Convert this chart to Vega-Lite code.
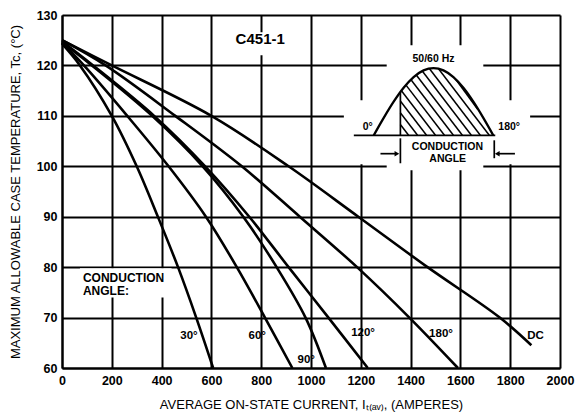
{
  "$schema": "https://vega.github.io/schema/vega-lite/v6.json",
  "width": 498,
  "height": 353,
  "autosize": {"type": "none"},
  "padding": {"left": 62, "top": 15, "right": 17, "bottom": 50},
  "background": "white",
  "config": {
    "view": {"stroke": null},
    "font": "Liberation Sans"
  },
  "datasets": {
    "curves": [
      {"angle": "30", "x": 0, "y": 124.3}, {"angle": "30", "x": 72, "y": 120}, {"angle": "30", "x": 200, "y": 110}, {"angle": "30", "x": 300, "y": 100}, {"angle": "30", "x": 385, "y": 90}, {"angle": "30", "x": 466, "y": 80}, {"angle": "30", "x": 539, "y": 70}, {"angle": "30", "x": 607, "y": 60},
      {"angle": "60", "x": 0, "y": 124.5}, {"angle": "60", "x": 88, "y": 120}, {"angle": "60", "x": 262, "y": 110}, {"angle": "60", "x": 428, "y": 100}, {"angle": "60", "x": 578, "y": 90}, {"angle": "60", "x": 702, "y": 80}, {"angle": "60", "x": 815, "y": 70}, {"angle": "60", "x": 925, "y": 60},
      {"angle": "90", "x": 0, "y": 124.6}, {"angle": "90", "x": 120, "y": 120}, {"angle": "90", "x": 362, "y": 110}, {"angle": "90", "x": 565, "y": 100}, {"angle": "90", "x": 728, "y": 90}, {"angle": "90", "x": 862, "y": 80}, {"angle": "90", "x": 978, "y": 70}, {"angle": "90", "x": 1060, "y": 60},
      {"angle": "120", "x": 0, "y": 124.8}, {"angle": "120", "x": 125, "y": 120}, {"angle": "120", "x": 370, "y": 110}, {"angle": "120", "x": 575, "y": 100}, {"angle": "120", "x": 752, "y": 90}, {"angle": "120", "x": 910, "y": 80}, {"angle": "120", "x": 1070, "y": 70}, {"angle": "120", "x": 1228, "y": 60},
      {"angle": "180", "x": 0, "y": 125}, {"angle": "180", "x": 175, "y": 120}, {"angle": "180", "x": 455, "y": 110}, {"angle": "180", "x": 722, "y": 100}, {"angle": "180", "x": 955, "y": 90}, {"angle": "180", "x": 1185, "y": 80}, {"angle": "180", "x": 1395, "y": 70}, {"angle": "180", "x": 1590, "y": 60},
      {"angle": "DC", "x": 0, "y": 125}, {"angle": "DC", "x": 200, "y": 120}, {"angle": "DC", "x": 600, "y": 110}, {"angle": "DC", "x": 910, "y": 100}, {"angle": "DC", "x": 1190, "y": 90}, {"angle": "DC", "x": 1468, "y": 80}, {"angle": "DC", "x": 1758, "y": 70}, {"angle": "DC", "x": 1885, "y": 64.5}
    ],
    "masks": [
      {"x": 1304, "x2": 1692, "y": 99.2, "y2": 124.0},
      {"x": 1132, "x2": 1880, "y": 100.4, "y2": 113.1},
      {"x": 672, "x2": 920, "y": 122.0, "y2": 126.6},
      {"x": 72, "x2": 440, "y": 74.0, "y2": 79.8}
    ],
    "curveLabels": [
      {"x": 510, "y": 66.4, "label": "30°"},
      {"x": 784, "y": 66.4, "label": "60°"},
      {"x": 981, "y": 61.6, "label": "90°"},
      {"x": 1209, "y": 66.9, "label": "120°"},
      {"x": 1522, "y": 66.8, "label": "180°"},
      {"x": 1902, "y": 66.4, "label": "DC"}
    ],
    "sine": [
      {"x": 1252, "y": 106.14}, {"x": 1292, "y": 109.59}, {"x": 1332, "y": 112.80}, {"x": 1372, "y": 115.56}, {"x": 1412, "y": 117.68}, {"x": 1452, "y": 119.01}, {"x": 1492, "y": 119.46}, {"x": 1532, "y": 119.01}, {"x": 1572, "y": 117.68}, {"x": 1612, "y": 115.56}, {"x": 1652, "y": 112.80}, {"x": 1692, "y": 109.59}, {"x": 1732, "y": 106.14}
    ],
    "hatch": [
      {"x": 1358.8, "y": 108.29, "x2": 1392, "y2": 106.14},
      {"x": 1358.8, "y": 110.62, "x2": 1428, "y2": 106.14},
      {"x": 1358.8, "y": 112.94, "x2": 1464, "y2": 106.14},
      {"x": 1363.2, "y": 114.99, "x2": 1500, "y2": 106.14},
      {"x": 1381.6, "y": 116.10, "x2": 1536, "y2": 106.14},
      {"x": 1401.6, "y": 117.16, "x2": 1572, "y2": 106.14},
      {"x": 1422.8, "y": 118.11, "x2": 1608, "y2": 106.14},
      {"x": 1446.8, "y": 118.91, "x2": 1644, "y2": 106.14},
      {"x": 1475.2, "y": 119.38, "x2": 1680, "y2": 106.14},
      {"x": 1512, "y": 119.34, "x2": 1716, "y2": 106.14},
      {"x": 1582, "y": 117.2, "x2": 1670, "y2": 111.23}
    ],
    "insetRules": [
      {"x": 1172, "y": 106.14, "x2": 1740, "y2": 106.14},
      {"x": 1359, "y": 106.14, "x2": 1359, "y2": 114.7},
      {"x": 1359, "y": 105.55, "x2": 1359, "y2": 100.6},
      {"x": 1736, "y": 105.15, "x2": 1736, "y2": 101.6},
      {"x": 1279, "y": 102.5, "x2": 1340, "y2": 102.5},
      {"x": 1752, "y": 102.5, "x2": 1819, "y2": 102.5}
    ],
    "arrowRight": [{"x": 1345, "y": 102.5}],
    "arrowLeft": [{"x": 1748, "y": 102.5}],
    "insetText": [
      {"x": 1492, "y": 121.25, "label": "50/60 Hz"},
      {"x": 1228, "y": 107.7, "label": "0°"},
      {"x": 1796, "y": 107.7, "label": "180°"},
      {"x": 1548, "y": 103.8, "label": "CONDUCTION"},
      {"x": 1549, "y": 101.5, "label": "ANGLE"}
    ],
    "condText": [
      {"x": 84, "y": 77.9, "label": "CONDUCTION"},
      {"x": 84, "y": 75.3, "label": "ANGLE:"}
    ],
    "titleText": [
      {"x": 796, "y": 125.2, "label": "C451-1"}
    ]
  },
  "encoding": {
    "x": {
      "field": "x", "type": "quantitative",
      "scale": {"domain": [0, 2000], "nice": false, "zero": false},
      "axis": {
        "values": [0, 200, 400, 600, 800, 1000, 1200, 1400, 1600, 1800, 2000],
        "format": "d",
        "title": "AVERAGE ON-STATE CURRENT, Iₜ₍ₐᵥ₎, (AMPERES)",
        "titleFont": "Liberation Sans", "titleFontSize": 13, "titleFontWeight": "normal", "titleColor": "black", "titlePadding": 12,
        "labelFont": "Liberation Sans", "labelFontSize": 12.5, "labelFontWeight": "bold", "labelColor": "black", "labelPadding": 6,
        "labelFlush": false, "labelOverlap": false,
        "ticks": false, "grid": true, "gridColor": "black", "gridWidth": 2, "gridOpacity": 1,
        "domain": true, "domainColor": "black", "domainWidth": 2
      }
    },
    "y": {
      "field": "y", "type": "quantitative",
      "scale": {"domain": [60, 130], "nice": false, "zero": false},
      "axis": {
        "values": [60, 70, 80, 90, 100, 110, 120, 130],
        "title": "MAXIMUM ALLOWABLE CASE TEMPERATURE, Tc, (°C)",
        "titleFont": "Liberation Sans", "titleFontSize": 13, "titleFontWeight": "normal", "titleColor": "black", "titlePadding": 14,
        "labelFont": "Liberation Sans", "labelFontSize": 12.5, "labelFontWeight": "bold", "labelColor": "black", "labelPadding": 5,
        "labelFlush": false, "labelOverlap": false,
        "ticks": false, "grid": true, "gridColor": "black", "gridWidth": 2, "gridOpacity": 1,
        "domain": true, "domainColor": "black", "domainWidth": 2
      }
    }
  },
  "layer": [
    {
      "data": {"name": "masks"},
      "mark": {"type": "rect", "fill": "white", "stroke": null},
      "encoding": {"x2": {"field": "x2"}, "y2": {"field": "y2"}}
    },
    {
      "data": {"name": "curves"},
      "mark": {"type": "line", "color": "black", "strokeWidth": 2.6, "interpolate": "catmull-rom"},
      "encoding": {"detail": {"field": "angle", "type": "nominal"}, "order": {"field": "x", "type": "quantitative"}}
    },
    {
      "data": {"name": "curveLabels"},
      "mark": {"type": "text", "font": "Liberation Sans", "fontSize": 11.5, "fontWeight": "bold", "align": "center", "baseline": "middle", "color": "black"},
      "encoding": {"text": {"field": "label"}}
    },
    {
      "data": {"name": "condText"},
      "mark": {"type": "text", "font": "Liberation Sans", "fontSize": 12, "fontWeight": "bold", "align": "left", "baseline": "middle", "color": "black"},
      "encoding": {"text": {"field": "label"}}
    },
    {
      "data": {"name": "titleText"},
      "mark": {"type": "text", "font": "Liberation Sans", "fontSize": 15, "fontWeight": "bold", "align": "center", "baseline": "middle", "color": "black"},
      "encoding": {"text": {"field": "label"}}
    },
    {
      "data": {"name": "hatch"},
      "mark": {"type": "rule", "color": "black", "strokeWidth": 1.5},
      "encoding": {"x2": {"field": "x2"}, "y2": {"field": "y2"}}
    },
    {
      "data": {"name": "insetRules"},
      "mark": {"type": "rule", "color": "black", "strokeWidth": 1.7},
      "encoding": {"x2": {"field": "x2"}, "y2": {"field": "y2"}}
    },
    {
      "data": {"name": "sine"},
      "mark": {"type": "line", "color": "black", "strokeWidth": 2.3, "interpolate": "monotone"},
      "encoding": {}
    },
    {
      "data": {"name": "arrowRight"},
      "mark": {"type": "point", "shape": "triangle-right", "filled": true, "color": "black", "size": 30, "opacity": 1}
    },
    {
      "data": {"name": "arrowLeft"},
      "mark": {"type": "point", "shape": "triangle-left", "filled": true, "color": "black", "size": 30, "opacity": 1}
    },
    {
      "data": {"name": "insetText"},
      "mark": {"type": "text", "font": "Liberation Sans", "fontSize": 10.5, "fontWeight": "bold", "align": "center", "baseline": "middle", "color": "black"},
      "encoding": {"text": {"field": "label"}}
    }
  ]
}
